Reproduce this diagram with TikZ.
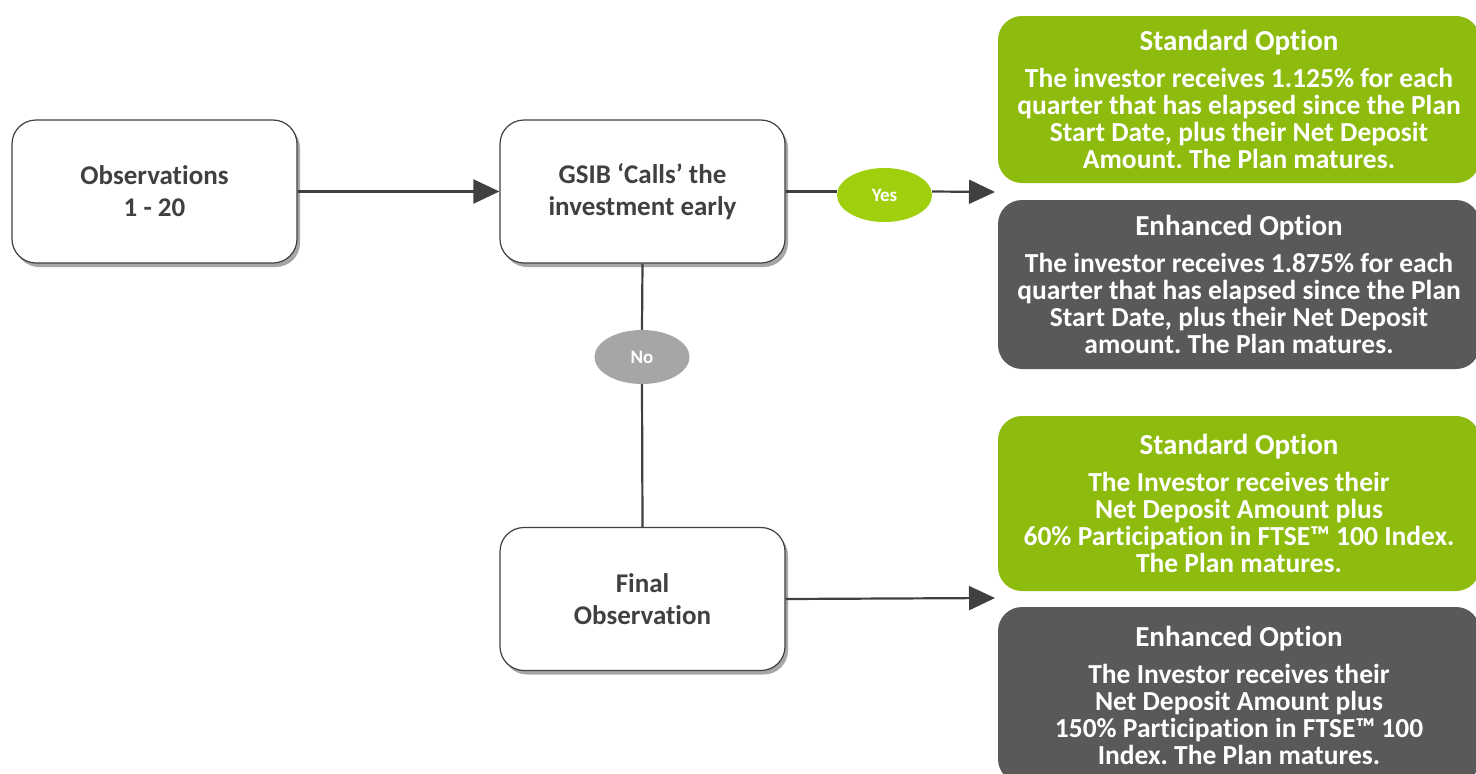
\documentclass[tikz,border=0pt]{standalone}
\usepackage{fontspec}
\setmainfont{Carlito}[Ligatures=NoCommon]
\usetikzlibrary{shapes.geometric,shadows,arrows.meta}
\frenchspacing

\definecolor{inktext}{HTML}{404040}
\definecolor{optgreen}{HTML}{8DBB0E}
\definecolor{optgrey}{HTML}{595959}
\definecolor{yesgreen}{HTML}{A0CF0E}
\definecolor{nogrey}{HTML}{A6A6A6}

\newcommand{\opthead}[1]{{\fontsize{29}{27}\selectfont #1}\\[10pt]}

\begin{document}
\begin{tikzpicture}[x=1pt,y=-1pt,
    stage/.style={draw=inktext, line width=1.2pt, fill=white, rounded corners=24pt,
      minimum width=285pt, minimum height=143pt, align=center, text=inktext,
      font=\fontsize{27}{32}\selectfont\bfseries,
      drop shadow={shadow xshift=3pt, shadow yshift=-4pt, fill=black, opacity=0.35}},
    option/.style={rounded corners=24pt, minimum width=482pt, align=center,
      text=white, inner sep=0pt, font=\fontsize{27.5}{27}\selectfont\bfseries},
    answer/.style={ellipse, minimum width=95pt, minimum height=54pt, inner sep=0pt,
      text=white, font=\fontsize{19}{20}\selectfont\bfseries},
    link/.style={draw=inktext, line width=2.2pt},
    tip/.style={-{Triangle[length=26pt,width=24pt]}}]
    \useasboundingbox (0,0) rectangle (1476,774);

    % flow boxes
    \node[stage] (obs) at (154.5,191.5) {Observations\\1 - 20};
    \node[stage] (gsib) at (642.5,191.5) {GSIB ‘Calls’ the\\investment early};
    \node[stage] (final) at (642.5,599) {Final\\Observation};

    % outcome boxes
    \node[option, fill=optgreen, minimum height=167pt] (callstd) at (1239,99.5)
      {\opthead{Standard Option}
       The investor receives 1.125\% for each\\
       quarter that has elapsed since the Plan\\
       Start Date, plus their Net Deposit\\
       Amount. The Plan matures.};
    \node[option, fill=optgrey, minimum height=169pt] (callenh) at (1239,284.5)
      {\opthead{Enhanced Option}
       The investor receives 1.875\% for each\\
       quarter that has elapsed since the Plan\\
       Start Date, plus their Net Deposit\\
       amount. The Plan matures.};
    \node[option, fill=optgreen, minimum height=175pt] (finstd) at (1239,503.5)
      {\opthead{Standard Option}
       The Investor receives their\\
       Net Deposit Amount plus\\
       60\% Participation in FTSE™ 100 Index.\\
       The Plan matures.};
    \node[option, fill=optgrey, minimum height=176pt] (finenh) at (1239,695)
      {\opthead{Enhanced Option}
       The Investor receives their\\
       Net Deposit Amount plus\\
       150\% Participation in FTSE™ 100\\
       Index. The Plan matures.};

    % decisions
    \node[answer, fill=yesgreen] (yes) at (884.5,195) {Yes};
    \node[answer, fill=nogrey] (no) at (642,357) {No};
    \coordinate (calltip) at (995,192);
    \coordinate (fintip) at (995,598);

    % connectors
    \draw[link, tip] (obs.east) -- (gsib.west);
    \draw[link] (gsib.east) -- (gsib.east -| yes.west);
    \draw[link, tip] (gsib.east -| yes.east) -- (calltip);
    \draw[link] (gsib.south) -- (no.north);
    \draw[link] (no.south) -- (final.north);
    \draw[link, tip] (final.east) -- (fintip);
\end{tikzpicture}
\end{document}
